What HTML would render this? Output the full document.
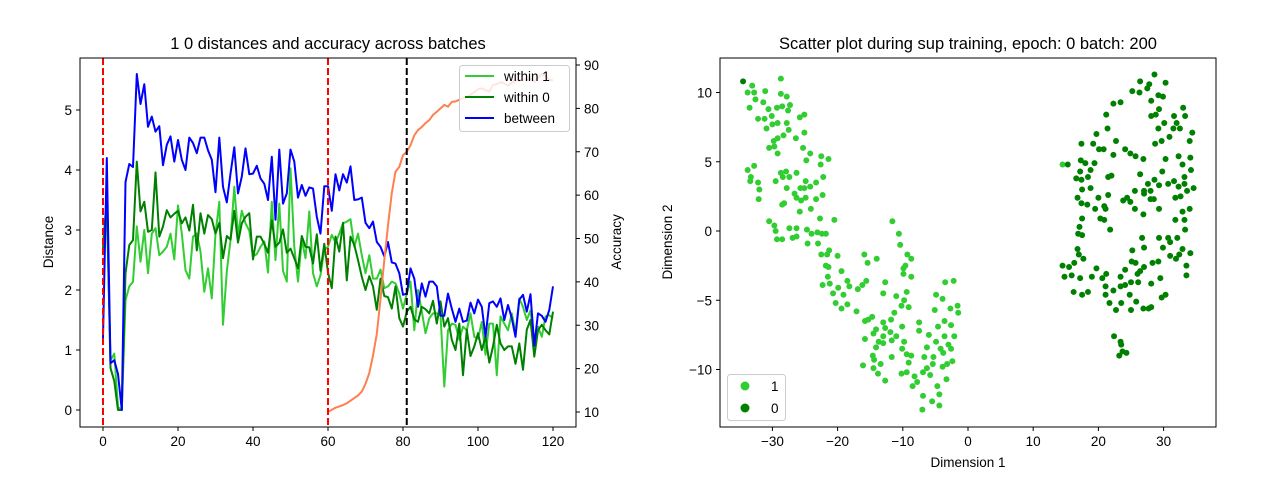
<!DOCTYPE html>
<html><head><meta charset="utf-8"><style>
body{margin:0;background:#fff;}
svg{display:block;font-family:"Liberation Sans","DejaVu Sans",sans-serif;}
</style></head><body>
<svg id="fig" width="1280" height="480" viewBox="0 0 1280 480" xmlns="http://www.w3.org/2000/svg"></svg>
<script>
// ---- Left chart data ----
const batches = Array.from({length:121},(_,i)=>i);
const betweenVals = [1.2,4.2,0.78,0.83,0.6,0.0,3.8,4.1,4.05,5.6,5.1,5.43,4.72,4.89,4.64,4.73,4.08,4.42,4.56,4.14,4.5,4.17,4.0,4.54,4.45,4.28,4.54,4.54,4.33,4.17,3.63,4.54,3.72,3.46,3.94,4.38,3.61,3.89,4.36,3.93,3.94,4.07,3.86,3.77,3.5,4.22,3.17,4.34,3.44,3.61,4.34,4.14,3.54,3.75,3.57,3.71,3.69,3.22,2.94,3.73,3.73,3.32,3.93,3.66,3.93,3.79,4.06,3.5,3.51,3.54,3.12,3.03,3.14,2.8,2.72,2.56,2.8,2.46,2.44,2.28,1.92,1.94,2.36,2.19,1.72,2.11,1.89,2.14,2.14,2.06,1.57,1.57,1.94,1.69,1.47,1.69,1.47,1.49,1.79,1.61,1.84,1.72,1.22,1.78,1.81,1.72,1.86,1.5,1.75,1.53,1.22,1.84,1.92,1.64,1.93,1.07,1.61,1.57,1.47,1.67,2.06];
const within0Vals = [2.7,3.5,0.7,0.48,0.0,0.0,2.28,2.75,2.83,4.14,3.31,3.47,2.97,3.0,3.96,2.89,3.06,3.33,3.21,3.27,3.32,3.11,3.21,2.99,3.42,2.66,3.28,2.94,3.25,3.18,2.94,3.12,2.53,2.9,2.84,3.32,2.79,3.11,3.22,3.28,2.51,2.89,2.89,2.77,2.62,3.16,2.72,2.79,3.01,2.62,2.69,2.53,2.36,2.9,2.72,2.71,2.44,2.93,2.32,2.77,2.29,2.03,2.89,2.64,3.12,2.16,2.89,2.75,2.5,2.22,2.0,2.23,2.06,1.67,2.19,1.9,1.88,1.69,2.06,1.53,1.39,1.64,1.72,1.51,1.47,1.72,1.68,1.61,1.82,1.44,1.81,1.39,1.53,1.17,1.0,1.44,0.58,1.34,0.9,1.06,1.28,1.0,1.22,0.79,1.06,1.42,1.11,1.0,1.06,1.06,0.77,1.11,0.67,1.34,1.5,0.89,1.33,1.42,1.33,1.26,1.64];
const within1Vals = [2.78,3.5,0.83,0.94,0.05,0.0,1.83,2.06,2.14,3.06,2.47,3.0,2.28,2.94,3.03,2.58,2.64,2.72,2.94,2.51,3.41,2.94,2.33,2.19,2.89,2.94,2.64,1.97,2.36,1.86,2.94,3.47,1.42,2.31,2.83,3.72,2.92,3.32,3.11,2.99,2.56,2.6,2.72,2.81,2.29,3.47,2.5,3.44,2.32,2.14,4.03,2.72,2.14,2.84,2.53,3.31,2.28,2.06,2.25,2.67,2.72,2.92,2.79,2.94,3.11,3.14,3.18,2.72,2.94,2.58,2.28,2.58,2.19,2.19,2.34,2.03,2.06,2.14,2.11,1.94,1.69,1.94,2.14,1.33,2.0,1.64,1.28,1.53,1.61,1.61,1.58,0.39,1.33,1.44,1.42,1.17,1.39,1.33,1.61,1.22,1.19,1.47,0.92,1.44,1.44,0.58,1.56,1.44,1.33,1.61,1.28,1.86,1.72,1.5,1.66,1.07,1.39,1.22,1.56,1.58,1.53];
const accStart = 60;
const accuracyVals = [10,10.5,11,11.3,11.6,12.0,12.6,13.2,13.8,14.7,16.5,19,23,28,36,45,53,60.5,65.4,66.5,69.2,70,71.5,73.8,75,75.7,76.6,77.3,78.5,79.2,80,80.8,80.4,81.5,81.6,82,82.3,82.6,83.1,83.8,84.4,84.6,84.2,83.9,85.4,85.6,86,85.8,85.2,85.9,86.5,86.4,86.7,86.6,86.8,86.1,87,87.9,87.4,86.6,86.5];
const vLinesRed = [0,60];
const vLinesBlack = [81];
const leftXTicks = [0,20,40,60,80,100,120];
const leftYTicks = [0,1,2,3,4,5];
const rightYTicks = [10,20,30,40,50,60,70,80,90];

// ---- Right chart data ([x, y] in data units) ----
const class1Points = [[-28.7,11.0],[-33.1,10.5],[-33.8,10.0],[-32.8,10.0],[-31.1,10.1],[-28.7,9.9],[-27.8,9.7],[-32.6,9.5],[-31.4,9.3],[-29.3,8.9],[-28.5,9.0],[-27.3,9.1],[-33.5,8.9],[-30.6,8.8],[-27.6,8.7],[-30.1,8.3],[-25.8,8.2],[-25.1,8.4],[-32.2,8.1],[-31.2,8.1],[-30.0,7.7],[-29.2,7.8],[-27.8,7.8],[-30.9,7.4],[-27.5,7.3],[-28.3,6.9],[-25.1,7.1],[-29.2,6.7],[-29.8,6.5],[-26.4,6.7],[-30.5,6.0],[-29.7,6.1],[-29.2,5.6],[-25.3,6.0],[-24.2,5.6],[-22.5,5.4],[-21.4,5.2],[-24.8,5.1],[-22.6,4.8],[-33.8,4.4],[-32.8,4.7],[-33.3,3.9],[-32.2,3.5],[-33.4,3.6],[-32.0,3.0],[-32.1,2.3],[-29.5,3.6],[-28.7,4.2],[-27.9,4.3],[-28.4,3.9],[-27.4,3.9],[-26.3,4.2],[-22.2,3.9],[-24.9,3.6],[-23.3,3.5],[-27.8,3.1],[-25.7,3.1],[-25.1,3.1],[-24.2,3.2],[-26.6,2.7],[-26.3,2.4],[-24.9,2.4],[-25.6,2.2],[-23.3,2.3],[-22.3,2.6],[-28.5,1.9],[-28.2,2.0],[-25.8,1.4],[-24.1,1.6],[-30.5,0.7],[-29.7,0.4],[-29.5,0.0],[-29.3,-0.6],[-28.5,-0.6],[-27.4,0.2],[-26.3,0.2],[-26.9,-0.5],[-26.3,-0.4],[-24.7,0.1],[-24.0,-0.2],[-23.1,-0.1],[-22.4,-0.2],[-21.8,-0.2],[-22.7,0.9],[-20.5,0.8],[-24.6,-0.9],[-23.0,-0.9],[-22.5,-1.7],[-21.6,-1.7],[-21.3,-1.4],[-20.0,-1.8],[-21.8,-2.5],[-21.4,-2.6],[-21.5,-3.3],[-19.4,-2.9],[-22.3,-3.9],[-21.2,-3.8],[-19.9,-4.1],[-20.7,-4.5],[-19.1,-4.6],[-18.5,-3.6],[-18.2,-4.0],[-16.9,-4.2],[-16.2,-3.9],[-15.6,-3.6],[-20.3,-5.2],[-19.4,-5.6],[-18.5,-5.3],[-17.1,-5.8],[-15.9,-1.7],[-15.4,-2.3],[-14.0,-2.0],[-11.6,0.7],[-10.6,-0.2],[-10.4,-1.0],[-9.3,-1.7],[-8.7,-2.0],[-9.6,-2.5],[-9.9,-2.7],[-9.9,-3.1],[-8.7,-3.3],[-12.7,-3.7],[-13.0,-4.5],[-11.0,-4.7],[-9.4,-4.4],[-9.8,-5.0],[-10.2,-5.4],[-9.1,-5.5],[-11.3,-5.9],[-11.8,-6.4],[-15.8,-6.5],[-15.3,-6.4],[-14.7,-6.2],[-13.0,-6.6],[-12.7,-7.0],[-14.1,-7.1],[-14.5,-7.4],[-13.0,-7.6],[-11.9,-7.3],[-11.0,-7.6],[-10.1,-6.9],[-15.8,-7.8],[-13.7,-8.0],[-13.0,-8.1],[-11.7,-7.9],[-9.8,-8.0],[-14.1,-8.4],[-10.1,-8.5],[-9.4,-8.9],[-8.7,-9.0],[-11.7,-9.1],[-14.6,-9.0],[-14.4,-9.3],[-13.4,-9.6],[-16.1,-9.7],[-14.5,-9.9],[-13.8,-10.3],[-12.7,-10.8],[-10.2,-10.3],[-9.4,-10.2],[-9.1,-9.5],[-8.2,-10.5],[-8.5,-11.2],[-7.8,-10.9],[-7.5,-6.6],[-7.5,-7.2],[-6.0,-7.5],[-6.7,-9.1],[-6.3,-8.4],[-5.1,-5.7],[-4.9,-4.6],[-3.9,-4.9],[-3.5,-3.7],[-2.2,-3.6],[-2.7,-5.6],[-1.6,-5.4],[-1.5,-5.9],[-3.6,-6.5],[-4.6,-6.9],[-2.6,-6.8],[-4.9,-8.0],[-3.6,-7.6],[-2.1,-7.6],[-4.2,-8.5],[-3.0,-8.2],[-2.6,-8.5],[-5.3,-9.1],[-3.8,-8.8],[-5.4,-9.6],[-6.3,-9.9],[-6.9,-10.2],[-5.8,-10.4],[-3.9,-9.8],[-3.2,-9.6],[-2.4,-9.4],[-3.3,-10.7],[-4.7,-11.2],[-4.4,-11.8],[-6.9,-11.9],[-5.5,-12.3],[-4.4,-12.6],[-7.0,-12.9],[14.5,4.8]];
const class0Points = [[-34.5,10.8],[28.6,11.3],[26.4,10.8],[30.3,10.7],[27.8,10.6],[27.5,10.3],[25.2,10.1],[26.3,10.0],[29.2,9.8],[29.9,9.7],[22.3,9.2],[23.4,9.3],[28.1,9.4],[29.3,8.8],[33.0,8.9],[21.2,8.4],[28.1,8.3],[28.8,8.4],[31.6,8.3],[33.3,8.3],[30.1,7.8],[32.0,7.8],[21.4,7.4],[29.2,7.4],[31.5,7.4],[32.5,7.4],[19.7,7.0],[34.4,7.1],[30.9,6.8],[29.7,6.5],[28.7,6.3],[34.0,6.5],[17.4,6.3],[19.2,6.3],[20.1,5.9],[20.8,5.9],[22.7,6.5],[24.1,5.9],[24.9,5.6],[25.7,5.4],[26.9,5.2],[22.3,5.5],[30.3,5.2],[32.3,5.4],[34.1,5.3],[17.3,5.1],[18.0,4.9],[19.4,4.9],[32.9,4.8],[15.3,4.8],[17.2,4.3],[18.8,4.4],[34.2,4.4],[29.8,4.3],[26.4,4.1],[16.6,3.8],[17.4,3.7],[18.4,3.9],[21.5,3.9],[22.0,4.0],[28.6,3.7],[27.6,3.4],[30.7,3.4],[31.6,3.6],[33.2,3.9],[33.2,3.4],[29.3,3.3],[32.3,3.2],[17.5,3.0],[18.8,3.1],[25.6,2.9],[27.0,2.9],[27.0,2.7],[28.0,2.9],[33.6,2.9],[34.6,3.1],[21.5,2.6],[16.8,2.4],[20.0,2.4],[24.4,2.4],[23.8,2.2],[24.9,2.1],[28.0,2.3],[28.5,2.3],[31.8,2.4],[32.6,2.5],[17.4,2.0],[18.3,1.9],[20.9,1.8],[19.5,1.6],[21.1,1.6],[25.6,1.6],[26.9,1.2],[29.3,1.6],[34.0,1.6],[32.9,1.4],[17.5,0.9],[20.3,0.9],[20.9,0.8],[31.8,0.8],[33.2,0.8],[17.1,0.3],[21.8,0.1],[33.3,0.1],[16.9,-0.2],[17.5,-0.3],[26.7,-0.5],[29.3,-0.5],[30.7,-0.5],[32.1,-0.5],[31.0,-0.8],[16.8,-1.3],[25.2,-1.4],[27.0,-1.2],[29.9,-1.2],[32.9,-1.3],[34.1,-1.6],[17.0,-1.7],[31.0,-1.8],[32.4,-1.7],[31.9,-2.0],[17.7,-2.0],[16.3,-2.3],[14.5,-2.5],[15.5,-2.6],[25.1,-2.2],[25.7,-2.3],[28.3,-2.3],[29.2,-2.2],[27.0,-2.6],[33.5,-2.5],[19.7,-2.7],[24.1,-2.8],[14.8,-3.3],[15.9,-3.2],[17.2,-3.4],[19.0,-3.3],[20.6,-3.4],[21.2,-3.1],[23.4,-3.3],[26.0,-3.1],[26.4,-2.9],[29.5,-3.4],[33.5,-3.2],[21.1,-4.0],[23.4,-4.0],[24.1,-3.9],[25.0,-3.7],[26.1,-3.7],[28.1,-3.8],[16.2,-4.4],[17.5,-4.6],[18.4,-4.4],[21.1,-4.6],[22.3,-4.3],[24.8,-4.6],[29.7,-4.8],[30.3,-4.6],[21.7,-5.2],[23.5,-5.2],[25.8,-5.1],[22.7,-5.7],[25.0,-5.7],[26.9,-5.6],[27.7,-5.6],[28.1,-5.5],[22.4,-7.6],[23.4,-8.0],[23.5,-8.2],[23.7,-8.7],[24.3,-8.8],[23.2,-9.0]];
const scatterXTicks = [-30,-20,-10,0,10,20,30];
const scatterYTicks = [-10,-5,0,5,10];

// ---- axis functions ----
const L = {x0:80,x1:576,y0:58,y1:427};
const R = {x0:720,x1:1216,y0:58,y1:427};
const lx = v => 103 + v*3.75;
const ly = v => 410 - v*60;
const ay = v => 412 - (v-10)*4.3375;
const sx = v => 968 + v*6.52;
const sy = v => 231 - v*13.85;

const NS = "http://www.w3.org/2000/svg";
const svg = document.getElementById('fig');
function mk(tag, attrs, parent){
  const e = document.createElementNS(NS, tag);
  for (const k in attrs) e.setAttribute(k, attrs[k]);
  (parent||svg).appendChild(e);
  return e;
}
function txt(s, attrs, parent){ const e = mk('text', attrs, parent); e.textContent = s; return e; }

// ===== Left chart =====
const gL = mk('g', {});


const tL = txt('1 0 distances and accuracy across batches', {x:328, y:49, 'text-anchor':'middle', 'font-size':16.5, fill:'#000'}, gL);



function linePath(xs, ys, fx, fy){ return xs.map((x,i)=>(i?'L':'M')+fx(x).toFixed(1)+','+fy(ys[i]).toFixed(1)).join(''); }

const seriesDefs = [
  {vals:within1Vals, color:'#32cd32', name:'within-1-line'},
  {vals:within0Vals, color:'#008000', name:'within-0-line'},
  {vals:betweenVals, color:'#0000ff', name:'between-line'}
];
for (const s of seriesDefs){
  const p = mk('path', {d:linePath(batches, s.vals, lx, ly), fill:'none', stroke:s.color, 'stroke-width':2, 'stroke-linejoin':'round'}, gL);
  
  
}
const accX = accuracyVals.map((_,i)=>accStart+i);
const acc = mk('path', {d:linePath(accX, accuracyVals, lx, ay), fill:'none', stroke:'#ff7f50', 'stroke-width':2}, gL);



for (const v of vLinesRed){
  const l = mk('line', {x1:lx(v), x2:lx(v), y1:L.y0, y2:L.y1, stroke:'#ff0000', 'stroke-width':2, 'stroke-dasharray':'7,3'}, gL);
  
  
}
for (const v of vLinesBlack){
  const l = mk('line', {x1:lx(v), x2:lx(v), y1:L.y0, y2:L.y1, stroke:'#000', 'stroke-width':2, 'stroke-dasharray':'7,3'}, gL);
  
  
}
const fL = mk('rect', {x:L.x0, y:L.y0, width:L.x1-L.x0, height:L.y1-L.y0, fill:'none', stroke:'#000', 'stroke-width':1}, gL);


for (const t of leftXTicks){
  mk('line', {x1:lx(t), x2:lx(t), y1:L.y1, y2:L.y1+4, stroke:'#000'}, gL);
  const e = txt(String(t), {x:lx(t), y:L.y1+19, 'text-anchor':'middle', 'font-size':13.5}, gL);
  
  
}
for (const t of leftYTicks){
  mk('line', {x1:L.x0-4, x2:L.x0, y1:ly(t), y2:ly(t), stroke:'#000'}, gL);
  const e = txt(String(t), {x:L.x0-8, y:ly(t)+5, 'text-anchor':'end', 'font-size':13.5}, gL);
  
  
}
for (const t of rightYTicks){
  mk('line', {x1:L.x1, x2:L.x1+4, y1:ay(t), y2:ay(t), stroke:'#000'}, gL);
  const e = txt(String(t), {x:L.x1+8, y:ay(t)+5, 'text-anchor':'start', 'font-size':13.5}, gL);
  
  
}
const yl = txt('Distance', {x:0, y:0, transform:'translate(53,242) rotate(-90)', 'text-anchor':'middle', 'font-size':13.5}, gL);


const yr = txt('Accuracy', {x:0, y:0, transform:'translate(621,242) rotate(-90)', 'text-anchor':'middle', 'font-size':13.5}, gL);



// legend left
const lg = mk('g', {}, gL);


mk('rect', {x:459.5, y:65.5, width:110, height:66, rx:3, fill:'#fff', 'fill-opacity':0.8, stroke:'#ccc'}, lg);
const legItems = [['within 1','#32cd32'],['within 0','#008000'],['between','#0000ff']];
legItems.forEach((it,i)=>{
  const y = 76 + i*21;
  mk('line', {x1:465, x2:494, y1:y, y2:y, stroke:it[1], 'stroke-width':2}, lg);
  const e = txt(it[0], {x:504, y:y+5, 'font-size':13.5}, lg);
  
  
});

// ===== Right chart =====
const gR = mk('g', {});


const tR = txt('Scatter plot during sup training, epoch: 0 batch: 200', {x:968, y:49, 'text-anchor':'middle', 'font-size':16.5}, gR);


for (const p of class1Points){
  const c = mk('circle', {cx:sx(p[0]), cy:sy(p[1]), r:3, fill:'#32cd32'}, gR);
  
  
}
for (const p of class0Points){
  const c = mk('circle', {cx:sx(p[0]), cy:sy(p[1]), r:3, fill:'#008000'}, gR);
  
  
}
const fR = mk('rect', {x:R.x0, y:R.y0, width:R.x1-R.x0, height:R.y1-R.y0, fill:'none', stroke:'#000'}, gR);


for (const t of scatterXTicks){
  mk('line', {x1:sx(t), x2:sx(t), y1:R.y1, y2:R.y1+4, stroke:'#000'}, gR);
  const e = txt(t<0?'\u2212'+(-t):String(t), {x:sx(t), y:R.y1+19, 'text-anchor':'middle', 'font-size':13.5}, gR);
  
  
}
for (const t of scatterYTicks){
  mk('line', {x1:R.x0-4, x2:R.x0, y1:sy(t), y2:sy(t), stroke:'#000'}, gR);
  const e = txt(t<0?'\u2212'+(-t):String(t), {x:R.x0-8, y:sy(t)+5, 'text-anchor':'end', 'font-size':13.5}, gR);
  
  
}
const xt = txt('Dimension 1', {x:968, y:467, 'text-anchor':'middle', 'font-size':13.5}, gR);


const yt = txt('Dimension 2', {x:0, y:0, transform:'translate(672,242) rotate(-90)', 'text-anchor':'middle', 'font-size':13.5}, gR);


const lg2 = mk('g', {}, gR);


mk('rect', {x:727.5, y:374.5, width:58, height:46, rx:3, fill:'#fff', 'fill-opacity':0.8, stroke:'#ccc'}, lg2);
[['1','#32cd32'],['0','#008000']].forEach((it,i)=>{
  const y = 386 + i*22;
  mk('circle', {cx:745, cy:y, r:4.5, fill:it[1]}, lg2);
  const e = txt(it[0], {x:771, y:y+5, 'font-size':13.5}, lg2);
  
  
});
</script>
</body></html>
